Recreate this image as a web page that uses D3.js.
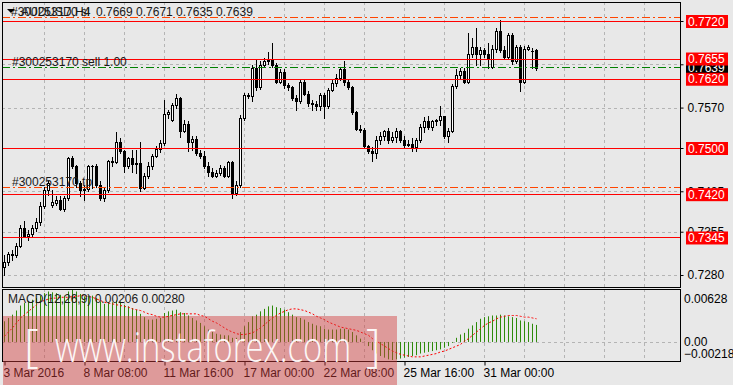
<!DOCTYPE html>
<html>
<head>
<meta charset="utf-8">
<script src="https://cdn.jsdelivr.net/npm/d3@7"></script>
<style>
  body { margin: 0; background: #e8e8e8; }
  svg { display: block; font-family: "Liberation Sans", Arial, sans-serif; font-size: 12px; }
</style>
</head>
<body>
<svg id="chart" width="733" height="385"></svg>
<script>
// AUDUSD H4, 3 Mar 2016 .. 1 Apr 2016, one entry per bar
const opens = [
  0.7294,0.7302,0.7317,0.7315,0.7331,0.7361,0.7347,0.7351,0.7361,0.7371,
  0.7400,0.7428,0.7401,0.7405,0.7410,0.7395,0.7413,0.7483,0.7468,0.7439,
  0.7428,0.7429,0.7468,0.7469,0.7436,0.7413,0.7428,0.7477,0.7475,0.7510,
  0.7494,0.7468,0.7483,0.7473,0.7474,0.7431,0.7452,0.7468,0.7487,0.7498,
  0.7509,0.7559,0.7548,0.7575,0.7587,0.7530,0.7542,0.7511,0.7516,0.7491,
  0.7487,0.7469,0.7459,0.7452,0.7457,0.7466,0.7451,0.7475,0.7422,0.7436,
  0.7552,0.7592,0.7590,0.7639,0.7606,0.7644,0.7650,0.7653,0.7644,0.7615,
  0.7631,0.7610,0.7606,0.7587,0.7581,0.7615,0.7594,0.7578,0.7577,0.7572,
  0.7592,0.7573,0.7601,0.7613,0.7621,0.7636,0.7614,0.7606,0.7562,0.7533,
  0.7532,0.7503,0.7494,0.7491,0.7514,0.7521,0.7529,0.7513,0.7519,0.7529,
  0.7514,0.7506,0.7507,0.7502,0.7513,0.7537,0.7546,0.7537,0.7546,0.7549,
  0.7555,0.7521,0.7530,0.7608,0.7627,0.7633,0.7615,0.7663,0.7675,0.7662,
  0.7669,0.7662,0.7641,0.7672,0.7702,0.7669,0.7658,0.7696,0.7650,0.7675,
  0.7615,0.7672,0.7668,0.7669
];
const highs = [
  0.7315,0.7319,0.7324,0.7336,0.7367,0.7373,0.7358,0.7367,0.7379,0.7406,
  0.7433,0.7442,0.7428,0.7416,0.7416,0.7417,0.7485,0.7486,0.7471,0.7443,
  0.7435,0.7471,0.7471,0.7473,0.7442,0.7431,0.7480,0.7485,0.7528,0.7517,
  0.7497,0.7485,0.7497,0.7497,0.7510,0.7457,0.7475,0.7490,0.7504,0.7513,
  0.7584,0.7566,0.7578,0.7594,0.7589,0.7549,0.7546,0.7520,0.7520,0.7497,
  0.7494,0.7476,0.7466,0.7462,0.7471,0.7469,0.7478,0.7478,0.7442,0.7558,
  0.7596,0.7596,0.7644,0.7652,0.7650,0.7656,0.7667,0.7682,0.7648,0.7636,
  0.7636,0.7612,0.7607,0.7591,0.7618,0.7618,0.7599,0.7584,0.7582,0.7596,
  0.7596,0.7604,0.7618,0.7629,0.7641,0.7650,0.7618,0.7608,0.7564,0.7540,
  0.7535,0.7506,0.7501,0.7521,0.7527,0.7532,0.7535,0.7527,0.7535,0.7532,
  0.7520,0.7513,0.7518,0.7518,0.7542,0.7553,0.7556,0.7549,0.7551,0.7572,
  0.7556,0.7535,0.7611,0.7636,0.7639,0.7639,0.7699,0.7691,0.7708,0.7675,
  0.7674,0.7682,0.7679,0.7708,0.7722,0.7676,0.7700,0.7700,0.7679,0.7679,
  0.7676,0.7679,0.7673,0.7671
];
const lows = [
  0.7280,0.7298,0.7306,0.7312,0.7329,0.7345,0.7341,0.7347,0.7357,0.7367,
  0.7396,0.7419,0.7398,0.7402,0.7393,0.7391,0.7410,0.7466,0.7433,0.7416,
  0.7410,0.7425,0.7431,0.7433,0.7410,0.7409,0.7424,0.7469,0.7474,0.7491,
  0.7459,0.7466,0.7459,0.7457,0.7425,0.7429,0.7448,0.7464,0.7485,0.7493,
  0.7506,0.7552,0.7546,0.7570,0.7519,0.7528,0.7494,0.7497,0.7488,0.7483,
  0.7466,0.7452,0.7449,0.7449,0.7454,0.7449,0.7449,0.7414,0.7419,0.7433,
  0.7549,0.7587,0.7581,0.7601,0.7603,0.7641,0.7646,0.7641,0.7613,0.7613,
  0.7604,0.7601,0.7584,0.7566,0.7578,0.7591,0.7573,0.7566,0.7566,0.7566,
  0.7552,0.7570,0.7598,0.7608,0.7617,0.7610,0.7603,0.7559,0.7532,0.7527,
  0.7501,0.7492,0.7477,0.7483,0.7507,0.7514,0.7509,0.7511,0.7511,0.7511,
  0.7502,0.7504,0.7494,0.7495,0.7511,0.7528,0.7533,0.7532,0.7539,0.7540,
  0.7518,0.7510,0.7527,0.7604,0.7622,0.7613,0.7613,0.7658,0.7644,0.7644,
  0.7658,0.7639,0.7639,0.7667,0.7667,0.7655,0.7655,0.7646,0.7648,0.7598,
  0.7613,0.7669,0.7639,0.7635
];
const closes = [
  0.7302,0.7317,0.7315,0.7331,0.7361,0.7347,0.7351,0.7361,0.7371,0.7400,
  0.7428,0.7439,0.7407,0.7410,0.7395,0.7413,0.7483,0.7468,0.7439,0.7428,
  0.7429,0.7468,0.7469,0.7436,0.7413,0.7428,0.7477,0.7475,0.7510,0.7494,
  0.7468,0.7483,0.7473,0.7474,0.7431,0.7452,0.7468,0.7487,0.7498,0.7509,
  0.7559,0.7563,0.7575,0.7587,0.7530,0.7542,0.7511,0.7516,0.7491,0.7487,
  0.7469,0.7459,0.7452,0.7457,0.7466,0.7451,0.7475,0.7422,0.7436,0.7552,
  0.7592,0.7590,0.7639,0.7606,0.7644,0.7650,0.7653,0.7644,0.7615,0.7631,
  0.7610,0.7606,0.7587,0.7581,0.7615,0.7594,0.7578,0.7577,0.7572,0.7592,
  0.7573,0.7601,0.7613,0.7621,0.7636,0.7614,0.7606,0.7562,0.7533,0.7532,
  0.7503,0.7494,0.7491,0.7514,0.7521,0.7529,0.7513,0.7519,0.7529,0.7514,
  0.7506,0.7507,0.7502,0.7513,0.7537,0.7546,0.7537,0.7546,0.7549,0.7555,
  0.7521,0.7530,0.7608,0.7627,0.7633,0.7615,0.7663,0.7675,0.7662,0.7669,
  0.7662,0.7656,0.7672,0.7702,0.7669,0.7658,0.7696,0.7650,0.7675,0.7615,
  0.7672,0.7675,0.7668,0.7639
];
// MACD(12,26,9) main (histogram) and signal
const macdMain = [
  0.00250,0.00290,0.00330,0.00380,0.00440,0.00470,0.00490,0.00510,0.00530,0.00560,
  0.00590,0.00610,0.00600,0.00590,0.00570,0.00560,0.00610,0.00628,0.00610,0.00580,
  0.00550,0.00560,0.00560,0.00530,0.00490,0.00460,0.00480,0.00480,0.00500,0.00490,
  0.00450,0.00430,0.00410,0.00390,0.00340,0.00300,0.00270,0.00270,0.00280,0.00290,
  0.00350,0.00370,0.00380,0.00390,0.00360,0.00350,0.00320,0.00290,0.00260,0.00230,
  0.00190,0.00150,0.00120,0.00100,0.00090,0.00080,0.00080,0.00050,0.00050,0.00120,
  0.00190,0.00240,0.00310,0.00330,0.00370,0.00400,0.00430,0.00440,0.00420,0.00410,
  0.00390,0.00360,0.00330,0.00300,0.00290,0.00270,0.00240,0.00220,0.00200,0.00190,
  0.00160,0.00150,0.00150,0.00150,0.00160,0.00160,0.00150,0.00120,0.00080,0.00040,
  0.00005,-0.00050,-0.00100,-0.00140,-0.00170,-0.00190,-0.00210,-0.00218,-0.00210,-0.00200,
  -0.00190,-0.00180,-0.00170,-0.00160,-0.00140,-0.00130,-0.00120,-0.00110,-0.00100,-0.00090,
  -0.00070,-0.00050,-0.00010,0.00050,0.00090,0.00110,0.00160,0.00200,0.00240,0.00280,
  0.00300,0.00310,0.00320,0.00320,0.00330,0.00320,0.00310,0.00300,0.00290,0.00260,
  0.00250,0.00240,0.00220,0.00206
];
const macdSignal = [
  0.00070,0.00120,0.00170,0.00230,0.00290,0.00330,0.00370,0.00410,0.00450,0.00490,
  0.00500,0.00520,0.00530,0.00530,0.00540,0.00540,0.00540,0.00550,0.00550,0.00560,
  0.00560,0.00550,0.00540,0.00520,0.00500,0.00480,0.00470,0.00460,0.00450,0.00440,
  0.00430,0.00420,0.00400,0.00390,0.00380,0.00360,0.00340,0.00330,0.00310,0.00300,
  0.00300,0.00310,0.00320,0.00330,0.00340,0.00340,0.00340,0.00340,0.00340,0.00320,
  0.00310,0.00280,0.00250,0.00230,0.00200,0.00170,0.00140,0.00120,0.00100,0.00090,
  0.00090,0.00100,0.00110,0.00140,0.00170,0.00210,0.00250,0.00290,0.00320,0.00350,
  0.00370,0.00390,0.00400,0.00400,0.00390,0.00380,0.00360,0.00340,0.00310,0.00290,
  0.00270,0.00240,0.00220,0.00200,0.00180,0.00170,0.00160,0.00150,0.00140,0.00120,
  0.00100,0.00080,0.00040,0.00010,-0.00020,-0.00050,-0.00080,-0.00110,-0.00130,-0.00150,
  -0.00160,-0.00170,-0.00180,-0.00180,-0.00180,-0.00170,-0.00160,-0.00150,-0.00140,-0.00120,
  -0.00110,-0.00090,-0.00070,-0.00050,-0.00030,0.00010,0.00040,0.00080,0.00120,0.00160,
  0.00200,0.00230,0.00250,0.00280,0.00300,0.00310,0.00320,0.00320,0.00320,0.00310,
  0.00300,0.00300,0.00290,0.00280
];
const timeLabels = ['3 Mar 2016', '8 Mar 08:00', '11 Mar 16:00', '17 Mar 00:00', '22 Mar 08:00', '25 Mar 16:00', '31 Mar 00:00'];
const priceTicks = [0.7280, 0.7355, 0.7425, 0.7500, 0.7570, 0.7645, 0.7720];
const macdTicks = [0.00628, 0, -0.00218];
const redLevels = [0.7720, 0.7655, 0.7620, 0.7500, 0.7420, 0.7345];
const slLevel = 0.7727, tpLevel = 0.7432, openLevel = 0.7640;
const ticket = '#300253170';

const svg = d3.select('#chart');
const L = 2, R = 680, T = 2, B = 287, MT = 289, MB = 361;
const last = closes.length - 1;

const x = d3.scaleLinear().domain([0, 169]).range([4, 680]);
const y = d3.scaleLinear().domain([0.7280, 0.7720]).range([275, 21]);
const yM = d3.scaleLinear().domain([-0.00218, 0.00628]).range([360, 290]);
const px = i => Math.round(x(i)) + 0.5;
const py = v => Math.round(y(v)) + 0.5;

svg.append('rect').attr('width', 733).attr('height', 385).attr('fill', '#e8e8e8');

const defs = svg.append('defs');
defs.append('clipPath').attr('id', 'main').append('rect')
  .attr('x', L + 1).attr('y', T + 1).attr('width', R - L - 1).attr('height', B - T - 1);
defs.append('clipPath').attr('id', 'sub').append('rect')
  .attr('x', L + 1).attr('y', MT + 1).attr('width', R - L - 1).attr('height', MB - MT - 1);

// grid
const grid = svg.append('g').attr('stroke', '#b4b4b4').attr('stroke-dasharray', '3,3');
const vTicks = d3.range(10, 170, 10);
[[T, B], [MT, MB]].forEach(([a, b]) => {
  grid.selectAll(null).data(vTicks).join('line')
    .attr('x1', d => px(d)).attr('x2', d => px(d)).attr('y1', a).attr('y2', b);
});
grid.selectAll(null).data(priceTicks).join('line')
  .attr('x1', L).attr('x2', R).attr('y1', d => py(d)).attr('y2', d => py(d));
grid.append('line').attr('x1', L).attr('x2', R)
  .attr('y1', Math.round(yM(0)) + 0.5).attr('y2', Math.round(yM(0)) + 0.5);

// candles
const bars = d3.range(closes.length).map(i => ({ i, o: opens[i], h: highs[i], l: lows[i], c: closes[i] }));
const cg = svg.append('g').attr('clip-path', 'url(#main)');
cg.selectAll('line').data(bars).join('line')
  .attr('x1', d => px(d.i)).attr('x2', d => px(d.i))
  .attr('y1', d => Math.round(y(d.h))).attr('y2', d => Math.round(y(d.l)) + 1)
  .attr('stroke', '#000');
cg.selectAll('rect').data(bars).join('rect')
  .attr('x', d => px(d.i) - 1)
  .attr('y', d => py(Math.max(d.o, d.c)))
  .attr('width', 2)
  .attr('height', d => Math.max(py(Math.min(d.o, d.c)) - py(Math.max(d.o, d.c)), 0.01))
  .attr('fill', d => d.c >= d.o ? '#fff' : '#000')
  .attr('stroke', '#000');

// trade and level lines
const lg = svg.append('g').attr('clip-path', 'url(#main)');
lg.selectAll('line.red').data(redLevels).join('line').attr('class', 'red')
  .attr('x1', L).attr('x2', R).attr('y1', d => py(d)).attr('y2', d => py(d))
  .attr('stroke', '#ff0000');
lg.selectAll('line.stop').data([slLevel, tpLevel]).join('line').attr('class', 'stop')
  .attr('x1', L).attr('x2', R).attr('y1', d => py(d)).attr('y2', d => py(d))
  .attr('stroke', '#ff4500').attr('stroke-dasharray', '8,3,2,3');
lg.append('line')
  .attr('x1', L).attr('x2', R).attr('y1', py(openLevel)).attr('y2', py(openLevel))
  .attr('stroke', '#008000').attr('stroke-dasharray', '8,3,2,3');

// texts in the main window
const txt = svg.append('g').attr('fill', '#1a1a1a');
txt.append('text').attr('x', 11).attr('y', py(slLevel) - 2).text(ticket + ' sl');
txt.append('text').attr('x', 21).attr('y', 16).text('AUDUSD,H4');
txt.append('text').attr('x', 96).attr('y', 16)
  .text([opens[last], highs[last], lows[last], closes[last]].map(d3.format('.4f')).join(' '));
txt.append('path').attr('d', 'M7,9L15,9L11,13Z').attr('fill', '#000');
txt.append('text').attr('x', 12).attr('y', py(openLevel) - 2).text(ticket + ' sell 1.00');
txt.append('text').attr('x', 12).attr('y', py(tpLevel) - 2).text(ticket + ' tp');

// MACD window
const mg = svg.append('g').attr('clip-path', 'url(#sub)');
mg.selectAll('line').data(macdMain).join('line')
  .attr('x1', (d, i) => px(i)).attr('x2', (d, i) => px(i))
  .attr('y1', yM(0)).attr('y2', d => yM(d))
  .attr('stroke', '#2e8b0a');
mg.append('path').datum(macdSignal)
  .attr('d', d3.line().x((d, i) => px(i)).y(d => yM(d)))
  .attr('fill', 'none').attr('stroke', '#ff0000').attr('stroke-dasharray', '2,2');
const f5 = d3.format('.5f');
svg.append('text').attr('x', 8).attr('y', 303).attr('fill', '#1a1a1a')
  .text(`MACD(12,26,9) ${f5(macdMain[last])} ${f5(macdSignal[last])}`);

// frames
svg.append('rect').attr('x', L + 0.5).attr('y', T + 0.5).attr('width', R - L).attr('height', B - T)
  .attr('fill', 'none').attr('stroke', '#000');
svg.append('rect').attr('x', L + 0.5).attr('y', MT + 0.5).attr('width', R - L).attr('height', MB - MT)
  .attr('fill', 'none').attr('stroke', '#000');

// price axis
const ay = svg.append('g').attr('transform', `translate(${R + 0.5},0)`)
  .call(d3.axisRight(y).tickValues(priceTicks).tickSize(3).tickPadding(4).tickFormat(d3.format('.4f')));
ay.select('.domain').remove();
ay.selectAll('line').attr('stroke', '#000');
ay.selectAll('text').attr('fill', '#000').style('font-size', '12px').style('font-family', '"Liberation Sans", Arial, sans-serif');

const tag = (v, color) => {
  svg.append('rect').attr('x', 686).attr('y', y(v) - 6).attr('width', 42).attr('height', 13).attr('fill', color);
  svg.append('text').attr('x', 688).attr('y', y(v) + 4.5).attr('fill', '#fff').text(d3.format('.4f')(v));
};
tag(closes[last], '#000');
redLevels.forEach(v => tag(v, '#ff0000'));

// MACD axis labels
const mLab = svg.append('g').attr('fill', '#000');
mLab.append('text').attr('x', 684).attr('y', yM(macdTicks[0]) + 13).text(f5(macdTicks[0]));
mLab.append('text').attr('x', 684).attr('y', yM(macdTicks[1]) + 4.5).text('0.00');
mLab.append('text').attr('x', 684).attr('y', yM(macdTicks[2]) - 2).text(f5(macdTicks[2]));

// time axis
const ax = svg.append('g').attr('transform', `translate(0,${MB + 0.5})`)
  .call(d3.axisBottom(x).tickValues(timeLabels.map((t, k) => k * 20)).tickSize(4).tickPadding(3)
    .tickFormat((d, k) => timeLabels[k]));
ax.select('.domain').remove();
ax.selectAll('line').attr('stroke', '#000').attr('transform', 'translate(0.5,0)');
ax.selectAll('text').attr('fill', '#000').attr('text-anchor', 'start').attr('dx', -1)
  .style('font-size', '12px').style('font-family', '"Liberation Sans", Arial, sans-serif');

// watermark
svg.append('rect').attr('x', 3).attr('y', 316).attr('width', 394).attr('height', 69)
  .attr('fill', '#d23c3c').attr('opacity', 0.45);
const wm = svg.append('g').attr('fill', '#fff').attr('opacity', 0.92)
  .style('font-family', '"Open Sans", "DejaVu Sans", sans-serif').style('font-weight', 300);
wm.append('text').attr('x', 24).attr('y', 362).style('font-size', '46px').text('[');
wm.append('text').attr('x', 55).attr('y', 362).style('font-size', '42px')
  .attr('textLength', 296).attr('lengthAdjust', 'spacingAndGlyphs').text('www.instaforex.com');
wm.append('text').attr('x', 366).attr('y', 362).style('font-size', '46px').text(']');
</script>
</body>
</html>
